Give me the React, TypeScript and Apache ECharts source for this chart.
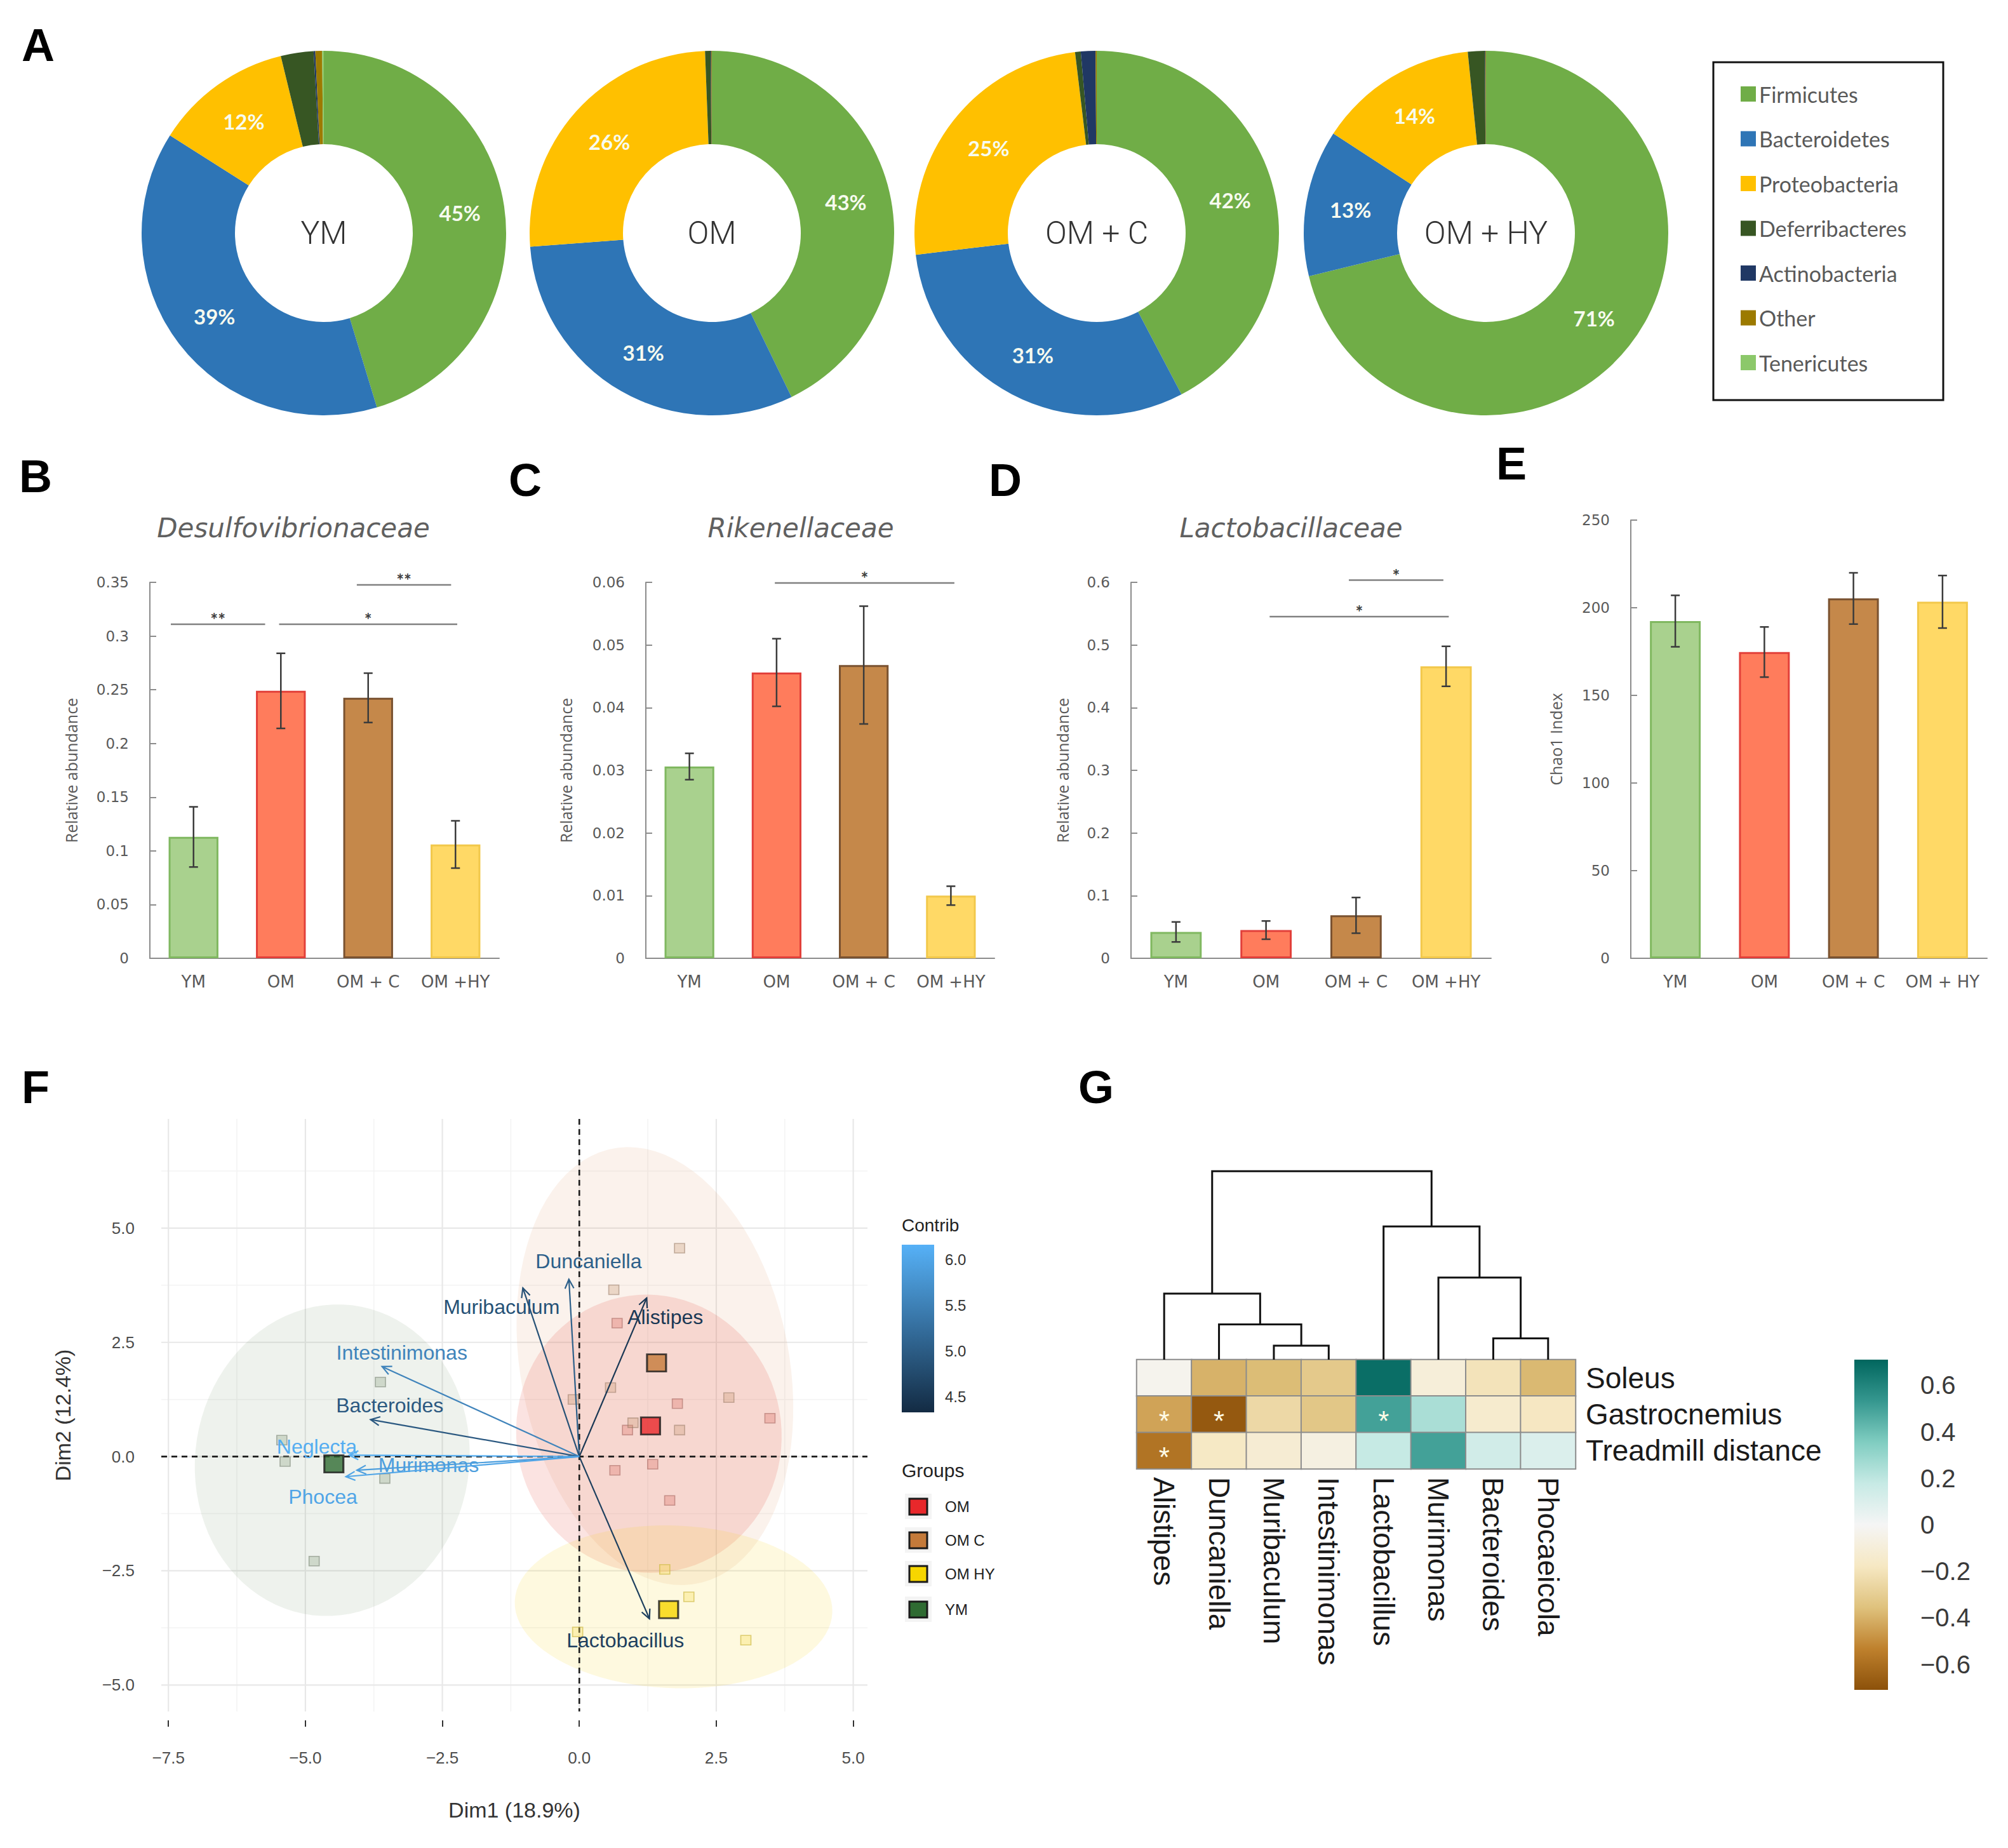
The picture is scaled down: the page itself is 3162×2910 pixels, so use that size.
import React, { useEffect, useRef } from 'react';
import * as echarts from 'echarts';

// ---------------- Panel A: phylum composition ----------------
const phyla = ['Firmicutes', 'Bacteroidetes', 'Proteobacteria', 'Deferribacteres', 'Actinobacteria', 'Other', 'Tenericutes'];
const phylumColors = ['#70ad47', '#2e75b6', '#ffc000', '#375623', '#203864', '#9c7a00', '#8cc86a'];
const pieGroups = ['YM', 'OM', 'OM + C', 'OM + HY'];
const pieYM = [45.3, 38.7, 12.2, 2.9, 0.15, 0.6, 0.15];
const pieOM = [42.8, 31.0, 25.6, 0.5, 0.05, 0.05, 0];
const pieOMC = [42.3, 30.8, 25.0, 0.5, 1.3, 0.1, 0];
const pieOMHY = [71.2, 13.0, 14.2, 1.5, 0.05, 0.05, 0];

// ---------------- Panels B-E: bar charts ----------------
const barGroups = ['YM', 'OM', 'OM + C', 'OM +HY'];
const barGroupsE = ['YM', 'OM', 'OM + C', 'OM + HY'];
const desulfoMean = [0.113, 0.249, 0.2425, 0.106];
const desulfoErr = [0.028, 0.035, 0.023, 0.022];
const rikenMean = [0.0306, 0.0456, 0.0468, 0.0100];
const rikenErr = [0.0021, 0.0054, 0.0094, 0.0015];
const lactoMean = [0.042, 0.045, 0.0686, 0.466];
const lactoErr = [0.016, 0.0145, 0.0285, 0.032];
const chaoMean = [192.4, 174.7, 205.3, 203.4];
const chaoErr = [14.7, 14.3, 14.6, 15.0];
// significance brackets: [from (category position), to, height, stars]
const desulfoSig: any[] = [[-0.26, 0.82, 0.311, '**'], [0.98, 3.02, 0.311, '*'], [1.87, 2.95, 0.3476, '**']];
const rikenSig: any[] = [[0.98, 3.04, 0.0599, '*']];
const lactoSig: any[] = [[1.92, 2.97, 0.6035, '*'], [1.04, 3.03, 0.5453, '*']];
const chaoSig: any[] = [];

// ---------------- Panel F: PCA biplot ----------------
const pcaGroups = ['OM', 'OM C', 'OM HY', 'YM'];
const omPoints = [[0.69, 2.92], [1.79, 1.16], [3.48, 0.84], [0.88, 0.58], [0.65, -0.30], [1.34, -0.17], [1.65, -0.96]];
const omcPoints = [[1.83, 4.56], [0.63, 3.65], [0.57, 1.51], [-0.11, 1.25], [2.73, 1.29], [0.98, 0.74], [1.83, 0.58]];
const omhyPoints = [[1.56, -2.47], [2.0, -3.07], [3.04, -4.02], [-0.03, -3.84]];
const ymPoints = [[-5.43, 0.36], [-5.37, -0.11], [-3.63, 1.63], [-3.55, -0.48], [-4.84, -2.29]];
const centroidPoints = [[1.30, 0.67], [1.41, 2.05], [1.63, -3.35], [-4.48, -0.16]];
// confidence ellipses: [cx, cy, semiX, semiY, rotationDeg]
const ellipseYM = [-4.51, -0.08, 2.5, 3.42, -9];
const ellipseOMC = [1.38, 1.98, 2.45, 4.85, 11];
const ellipseOM = [1.27, 0.5, 2.42, 3.05, 10];
const ellipseOMHY = [1.72, -3.29, 2.9, 1.78, -2];
const loadingNames = ['Duncaniella', 'Muribaculum', 'Alistipes', 'Intestinimonas', 'Bacteroides', 'Neglecta', 'Murimonas', 'Phocea', 'Lactobacillus'];
const loadingX = [-0.19, -1.03, 1.23, -3.60, -3.81, -4.2, -4.06, -4.26, 1.28];
const loadingY = [3.88, 3.69, 3.47, 1.97, 0.81, 0.03, -0.30, -0.44, -3.55];
const loadingContrib = [5.05, 4.85, 4.5, 5.55, 4.95, 6.1, 5.9, 6.0, 4.6];
const loadingLabelX = [0.17, -1.42, 1.57, -3.24, -3.46, -4.79, -2.75, -4.68, 0.84];
const loadingLabelY = [4.27, 3.27, 3.05, 2.27, 1.12, 0.22, -0.18, -0.88, -4.02];
const fMajorX = [-7.5, -5, -2.5, 0, 2.5, 5];
const fMinorX = [-6.25, -3.75, -1.25, 1.25, 3.75];
const fMajorY = [-5, -2.5, 0, 2.5, 5];
const fMinorY = [-3.75, -1.25, 1.25, 3.75, 6.25];
const contribTicks = [4.5, 5.0, 5.5, 6.0];

// ---------------- Panel G: correlation heatmap ----------------
const genera = ['Alistipes', 'Duncaniella', 'Muribaculum', 'Intestinimonas', 'Lactobacillus', 'Murimonas', 'Bacteroides', 'Phocaeicola'];
const traits = ['Soleus', 'Gastrocnemius', 'Treadmill distance'];
const corrSoleus = [-0.03, -0.40, -0.37, -0.32, 0.68, -0.10, -0.20, -0.38];
const corrGastro = [-0.44, -0.68, -0.25, -0.33, 0.50, 0.25, -0.14, -0.18];
const corrTreadmill = [-0.58, -0.17, -0.12, -0.07, 0.18, 0.50, 0.14, 0.10];
const sigSoleus = [0, 0, 0, 0, 0, 0, 0, 0];
const sigGastro = [1, 1, 0, 0, 1, 0, 0, 0];
const sigTreadmill = [1, 0, 0, 0, 0, 0, 0, 0];
// dendrogram merges: [nodeA, nodeB, height]; leaves 0..7, new nodes from 8
const dendroMerges = [[2, 3, 0.221], [1, 8, 0.556], [0, 9, 1.039], [6, 7, 0.335], [5, 11, 1.293], [4, 12, 2.097], [10, 13, 2.968]];
const corrTicks = [-0.6, -0.4, -0.2, 0, 0.2, 0.4, 0.6];

// ---------------- styles ----------------
const groupFill = ['#a9d18e', '#ff7c5c', '#c5884a', '#ffd966'];
const groupBorder = ['#80b860', '#e2403a', '#7a5230', '#f2c84b'];
const brbg = ['#8c510a', '#bf812d', '#dfc27d', '#f6e8c3', '#f5f5f5', '#c7eae5', '#80cdc1', '#35978f', '#01665e'];
const contribColors = ['#132B43', '#56B1F7'];
const ptFill = ['rgba(220,110,100,0.40)', 'rgba(200,150,110,0.38)', 'rgba(250,220,80,0.40)', 'rgba(150,170,140,0.45)'];
const ptBorder = ['rgba(160,95,90,0.65)', 'rgba(150,120,100,0.65)', 'rgba(205,185,70,0.85)', 'rgba(125,135,120,0.75)'];
const centroidColors = ['#e8282b', '#c47a3a', '#f7d600', '#2f6b32'];
const ellipseFill = ['rgba(70,110,60,0.09)', 'rgba(220,140,80,0.11)', 'rgba(230,60,40,0.14)', 'rgba(250,215,30,0.14)'];

const minus = (s: string) => s.replace('-', '\u2212');
const fmt1 = (v: number) => minus(Number(v).toFixed(1));

function buildOption() {
  const series: any[] = [];
  const grids: any[] = [];
  const xAxes: any[] = [];
  const yAxes: any[] = [];

  // ---- pies
  const pieCenters = [[510, 367], [1121, 367], [1727, 367], [2340, 367]];
  [pieYM, pieOM, pieOMC, pieOMHY].forEach((vals, i) => {
    series.push({
      type: 'pie', center: pieCenters[i], radius: [140, 287], startAngle: 90, clockwise: true,
      silent: true, avoidLabelOverlap: false,
      label: {
        show: true, position: 'inside',
        formatter: (p: any) => (p.value >= 5 ? Math.round(p.value) + '%' : ''),
        color: '#f7fbef', fontFamily: 'Lato', fontWeight: 'bold', fontSize: 33,
      },
      labelLine: { show: false },
      data: phyla.map((n, k) => ({ name: n, value: vals[k], itemStyle: { color: phylumColors[k] } })),
    });
  });

  // ---- bar panels
  const panels = [
    { left: 236, top: 917, width: 550, height: 592, cats: barGroups, mean: desulfoMean, err: desulfoErr, sig: desulfoSig, max: 0.35, interval: 0.05, name: 'Relative abundance', gap: 112 },
    { left: 1017, top: 917, width: 549, height: 592, cats: barGroups, mean: rikenMean, err: rikenErr, sig: rikenSig, max: 0.06, interval: 0.01, name: 'Relative abundance', gap: 114 },
    { left: 1781, top: 917, width: 567, height: 592, cats: barGroups, mean: lactoMean, err: lactoErr, sig: lactoSig, max: 0.6, interval: 0.1, name: 'Relative abundance', gap: 96 },
    { left: 2568, top: 819, width: 561, height: 690, cats: barGroupsE, mean: chaoMean, err: chaoErr, sig: chaoSig, max: 250, interval: 50, name: 'Chao1 Index', gap: 106 },
  ];
  panels.forEach((p) => {
    grids.push({ left: p.left, top: p.top, width: p.width, height: p.height });
  });
  panels.forEach((p, k) => {
    xAxes.push({
      gridIndex: k, type: 'category', data: p.cats,
      axisLine: { show: true, onZero: false, lineStyle: { color: '#8c8c8c', width: 2 } },
      axisTick: { show: false },
      axisLabel: { color: '#595959', fontFamily: 'DejaVu Sans', fontSize: 26, margin: 24, interval: 0 },
    });
    yAxes.push({
      gridIndex: k, type: 'value', min: 0, max: p.max, interval: p.interval,
      axisLine: { show: true, onZero: false, lineStyle: { color: '#8c8c8c', width: 2 } },
      axisTick: { show: true, inside: true, length: 10, lineStyle: { color: '#8c8c8c', width: 2 } },
      splitLine: { show: false },
      axisLabel: { color: '#595959', fontFamily: 'DejaVu Sans', fontSize: 23, margin: 33 },
      name: p.name, nameLocation: 'middle', nameGap: p.gap,
      nameTextStyle: { color: '#595959', fontFamily: 'Open Sans', fontSize: 25 },
    });
  });
  panels.forEach((p, k) => {
    xAxes.push({ gridIndex: k, type: 'value', min: -0.5, max: 3.5, show: false, axisLine: { onZero: false } });
  });
  panels.forEach((p, k) => {
    series.push({
      type: 'bar', xAxisIndex: k, yAxisIndex: k, barWidth: '57%', silent: true,
      data: p.mean.map((v, i) => ({ value: v, itemStyle: { color: groupFill[i], borderColor: groupBorder[i], borderWidth: 3 } })),
    });
    // error bars: drawn on the hidden value x-axis (same positions as the categories)
    series.push({
      type: 'custom', xAxisIndex: 4 + k, yAxisIndex: k, silent: true, z: 5, clip: false,
      encode: { x: 0, y: 1 },
      data: p.mean.map((m, i) => [i, m, p.err[i]]),
      renderItem: (params: any, api: any) => {
        const i = params.dataIndex;
        const m = p.mean[i], e = p.err[i];
        const lo = api.coord([i, m - e]);
        const hi = api.coord([i, m + e]);
        const cap = 7;
        return {
          type: 'polyline',
          shape: { points: [[lo[0] - cap, lo[1]], [lo[0] + cap, lo[1]], [lo[0], lo[1]], [hi[0], hi[1]], [hi[0] - cap, hi[1]], [hi[0] + cap, hi[1]]] },
          style: { stroke: '#3b3b3b', lineWidth: 2.5, fill: 'none' },
        };
      },
    });
    if (p.sig.length) {
      series.push({
        type: 'custom', xAxisIndex: 4 + k, yAxisIndex: k, silent: true, z: 5, clip: false,
        encode: { x: 0, y: 2 },
        data: p.sig.map((s: any) => [s[0], s[1], s[2]]),
        renderItem: (params: any, api: any) => {
          const s = p.sig[params.dataIndex];
          const a = api.coord([s[0], s[2]]);
          const b = api.coord([s[1], s[2]]);
          return {
            type: 'group', children: [
              { type: 'line', shape: { x1: a[0], y1: a[1], x2: b[0], y2: b[1] }, style: { stroke: '#808080', lineWidth: 2.5 } },
              { type: 'text', x: (a[0] + b[0]) / 2, y: a[1] - 8, style: { text: s[3], fill: '#404040', font: 'bold 28px Lato', textAlign: 'center', textVerticalAlign: 'middle' } },
            ],
          };
        },
      });
    }
  });

  // ---- Panel F (grid 4)
  grids.push({ left: 254, top: 1762, width: 1112, height: 933 });
  xAxes.push({
    gridIndex: 4, type: 'value', min: -7.63, max: 5.26, offset: 14,
    axisLine: { show: false, onZero: false },
    axisTick: { show: true, length: 10, customValues: fMajorX, lineStyle: { color: '#333', width: 2 } },
    axisLabel: { customValues: fMajorX, formatter: fmt1, color: '#4d4d4d', fontSize: 26, fontFamily: 'Liberation Sans', margin: 46 },
    splitLine: { show: false },
    name: 'Dim1 (18.9%)', nameLocation: 'middle', nameGap: 124,
    nameTextStyle: { fontSize: 34, color: '#333', fontFamily: 'Liberation Sans' },
  });
  yAxes.push({
    gridIndex: 4, type: 'value', min: -5.58, max: 7.39,
    axisLine: { show: false, onZero: false }, axisTick: { show: false },
    axisLabel: { customValues: fMajorY, formatter: fmt1, color: '#4d4d4d', fontSize: 26, fontFamily: 'Liberation Sans', margin: 42 },
    splitLine: { show: false },
    name: 'Dim2 (12.4%)', nameLocation: 'middle', nameGap: 138,
    nameTextStyle: { fontSize: 34, color: '#333', fontFamily: 'Liberation Sans' },
  });
  const fx = 8, fy = 4;
  const gridData: any[] = [];
  fMinorX.forEach((v) => gridData.push([v, 0, 0]));
  fMinorY.forEach((v) => gridData.push([v, 1, 0]));
  fMajorX.forEach((v) => gridData.push([v, 0, 1]));
  fMajorY.forEach((v) => gridData.push([v, 1, 1]));
  series.push({
    type: 'custom', xAxisIndex: fx, yAxisIndex: fy, silent: true, z: 0, data: gridData,
    renderItem: (params: any, api: any) => {
      const cs = params.coordSys;
      const d = gridData[params.dataIndex];
      const st = d[2] ? { stroke: '#e8e8e8', lineWidth: 2.2 } : { stroke: '#f3f3f3', lineWidth: 1.5 };
      if (d[1] === 0) {
        const x = api.coord([d[0], 0])[0];
        return { type: 'line', shape: { x1: x, y1: cs.y, x2: x, y2: cs.y + cs.height }, style: st };
      }
      const y = api.coord([0, d[0]])[1];
      return { type: 'line', shape: { x1: cs.x, y1: y, x2: cs.x + cs.width, y2: y }, style: st };
    },
  });
  const ellipses = [ellipseYM, ellipseOMC, ellipseOM, ellipseOMHY];
  series.push({
    type: 'custom', xAxisIndex: fx, yAxisIndex: fy, silent: true, z: 1, data: ellipses,
    renderItem: (params: any, api: any) => {
      const e = ellipses[params.dataIndex];
      const c = api.coord([e[0], e[1]]);
      const s = api.size([1, 1]);
      const A = e[2] * s[0], B = e[3] * s[1], th = (e[4] * Math.PI) / 180;
      const pts: number[][] = [];
      for (let k = 0; k < 90; k++) {
        const t = (k / 90) * Math.PI * 2;
        const x = A * Math.cos(t), y = -B * Math.sin(t);
        pts.push([c[0] + x * Math.cos(th) + y * Math.sin(th), c[1] - x * Math.sin(th) + y * Math.cos(th)]);
      }
      return { type: 'polygon', shape: { points: pts }, style: { fill: ellipseFill[params.dataIndex] } };
    },
  });
  series.push({
    type: 'custom', xAxisIndex: fx, yAxisIndex: fy, silent: true, z: 3, data: [[0, 0], [0, 1]],
    renderItem: (params: any, api: any) => {
      const cs = params.coordSys;
      const o = api.coord([0, 0]);
      const st = { stroke: '#1a1a1a', lineWidth: 2.6, lineDash: [9, 7] };
      if (params.dataIndex === 0) return { type: 'line', shape: { x1: o[0], y1: cs.y, x2: o[0], y2: cs.y + cs.height }, style: st };
      return { type: 'line', shape: { x1: cs.x, y1: o[1], x2: cs.x + cs.width, y2: o[1] }, style: st };
    },
  });
  [omPoints, omcPoints, omhyPoints, ymPoints].forEach((pts, g) => {
    series.push({
      type: 'scatter', xAxisIndex: fx, yAxisIndex: fy, silent: true, z: 4, symbol: 'rect', symbolSize: [16, 15],
      data: pts, itemStyle: { color: ptFill[g], borderColor: ptBorder[g], borderWidth: 1.6 },
    });
  });
  const arrowSeriesIndex = series.length;
  series.push({
    type: 'custom', xAxisIndex: fx, yAxisIndex: fy, silent: true, z: 6,
    data: loadingNames.map((n, i) => [loadingX[i], loadingY[i], loadingContrib[i], loadingLabelX[i], loadingLabelY[i]]),
    renderItem: (params: any, api: any) => {
      const i = params.dataIndex;
      const o = api.coord([0, 0]);
      const t = api.coord([loadingX[i], loadingY[i]]);
      const l = api.coord([loadingLabelX[i], loadingLabelY[i]]);
      const color = api.visual('color');
      const ang = Math.atan2(t[1] - o[1], t[0] - o[0]);
      const hl = 16, ha = 0.45;
      const p1 = [t[0] - hl * Math.cos(ang - ha), t[1] - hl * Math.sin(ang - ha)];
      const p2 = [t[0] - hl * Math.cos(ang + ha), t[1] - hl * Math.sin(ang + ha)];
      return {
        type: 'group', children: [
          { type: 'line', shape: { x1: o[0], y1: o[1], x2: t[0], y2: t[1] }, style: { stroke: color, lineWidth: 2.2 } },
          { type: 'polyline', shape: { points: [p1, t, p2] }, style: { stroke: color, lineWidth: 2.2, fill: 'none' } },
          { type: 'text', x: l[0], y: l[1], style: { text: loadingNames[i], fill: color, font: '32px "Liberation Sans"', textAlign: 'center', textVerticalAlign: 'middle' } },
        ],
      };
    },
  });
  pcaGroups.forEach((g, i) => {
    series.push({
      type: 'scatter', name: g, xAxisIndex: fx, yAxisIndex: fy, silent: true, z: 8, symbol: 'rect', symbolSize: [30, 27],
      data: [centroidPoints[i]], itemStyle: { color: centroidColors[i], borderColor: '#1a1a1a', borderWidth: 3 },
    });
  });

  // ---- Panel G heatmap (grid 5) and dendrogram (grid 6)
  grids.push({ left: 1790, top: 2141, width: 691, height: 172 });
  xAxes.push({
    gridIndex: 5, type: 'category', data: genera, position: 'bottom',
    axisLine: { show: false }, axisTick: { show: false }, splitArea: { show: false },
    axisLabel: { rotate: -90, color: '#1a1a1a', fontSize: 46, fontFamily: 'Liberation Sans', margin: 13, interval: 0 },
  });
  yAxes.push({
    gridIndex: 5, type: 'category', data: traits, position: 'right', inverse: true,
    axisLine: { show: false }, axisTick: { show: false },
    axisLabel: { color: '#1a1a1a', fontSize: 46, fontFamily: 'Liberation Sans', margin: 16, interval: 0 },
  });
  const heatData: any[] = [];
  [corrSoleus, corrGastro, corrTreadmill].forEach((row, r) => {
    const sig = [sigSoleus, sigGastro, sigTreadmill][r];
    row.forEach((v, c) => heatData.push([c, r, v, sig[c]]));
  });
  const heatSeriesIndex = series.length;
  series.push({
    type: 'heatmap', xAxisIndex: 9, yAxisIndex: 5, silent: true, data: heatData,
    itemStyle: { borderColor: '#8c8c8c', borderWidth: 2 },
    label: {
      show: true, formatter: (p: any) => (p.data[3] ? '*' : ''), color: '#fffbe6',
      fontSize: 44, fontFamily: 'Liberation Sans', offset: [0, 10],
    },
  });
  grids.push({ left: 1790, top: 1841, width: 691, height: 300 });
  xAxes.push({ gridIndex: 6, type: 'value', min: -0.5, max: 7.5, show: false, axisLine: { onZero: false } });
  yAxes.push({ gridIndex: 6, type: 'value', min: 0, max: 3, show: false, axisLine: { onZero: false } });
  const nodeX: number[] = [0, 1, 2, 3, 4, 5, 6, 7];
  const nodeH: number[] = [0, 0, 0, 0, 0, 0, 0, 0];
  const dendroData: any[] = [];
  dendroMerges.forEach((m) => {
    const [a, b, h] = m;
    dendroData.push([nodeX[a], nodeH[a], nodeX[b], nodeH[b], h]);
    nodeX.push((nodeX[a] + nodeX[b]) / 2);
    nodeH.push(h);
  });
  series.push({
    type: 'custom', xAxisIndex: 10, yAxisIndex: 6, silent: true, clip: false, data: dendroData,
    renderItem: (params: any, api: any) => {
      const d = dendroData[params.dataIndex];
      const p1 = api.coord([d[0], d[1]]);
      const p2 = api.coord([d[0], d[4]]);
      const p3 = api.coord([d[2], d[4]]);
      const p4 = api.coord([d[2], d[3]]);
      return { type: 'polyline', shape: { points: [p1, p2, p3, p4] }, style: { stroke: '#111', lineWidth: 3, fill: 'none' } };
    },
  });

  // ---- colorbars (grid 7: Contrib, grid 8: correlation)
  grids.push({ left: 1420, top: 1960, width: 51, height: 264 });
  xAxes.push({ gridIndex: 7, type: 'value', min: 0, max: 1, show: false, axisLine: { onZero: false } });
  yAxes.push({
    gridIndex: 7, type: 'value', min: 4.33, max: 6.16, position: 'right',
    axisLine: { show: false, onZero: false }, splitLine: { show: false },
    axisTick: { show: true, inside: true, length: 9, customValues: contribTicks, lineStyle: { color: '#ffffff', width: 2 } },
    axisLabel: { customValues: contribTicks, formatter: fmt1, color: '#333', fontSize: 24, fontFamily: 'Liberation Sans', margin: 17 },
  });
  grids.push({ left: 2920, top: 2141, width: 53, height: 520 });
  xAxes.push({ gridIndex: 8, type: 'value', min: 0, max: 1, show: false, axisLine: { onZero: false } });
  yAxes.push({
    gridIndex: 8, type: 'value', min: -0.71, max: 0.71, position: 'right',
    axisLine: { show: false, onZero: false }, splitLine: { show: false }, axisTick: { show: false },
    axisLabel: {
      customValues: corrTicks, color: '#3a3a3a', fontSize: 40, fontFamily: 'Liberation Sans', margin: 51,
      formatter: (v: number) => (Math.abs(v) < 1e-9 ? '0' : minus(Number(v).toFixed(1))),
    },
  });
  const gradRect = (colorsTopToBottom: string[]) => (params: any) => {
    const cs = params.coordSys;
    const n = colorsTopToBottom.length;
    return {
      type: 'rect', shape: { x: cs.x, y: cs.y, width: cs.width, height: cs.height },
      style: { fill: new echarts.graphic.LinearGradient(0, 0, 0, 1, colorsTopToBottom.map((c, i) => ({ offset: i / (n - 1), color: c }))) },
    };
  };
  series.push({ type: 'custom', xAxisIndex: 11, yAxisIndex: 7, silent: true, z: 1, data: [[0.5, 5]], renderItem: gradRect(contribColors.slice().reverse()) });
  series.push({ type: 'custom', xAxisIndex: 12, yAxisIndex: 8, silent: true, z: 1, data: [[0.5, 0]], renderItem: gradRect(brbg.slice().reverse()) });

  // ---- graphic texts
  const letter = (t: string, x: number, y: number) => ({
    type: 'text', x, y, style: { text: t, font: 'bold 72px "Liberation Sans"', fill: '#000', textAlign: 'center', textVerticalAlign: 'middle' },
  });
  const graphic: any[] = [
    letter('A', 60, 71), letter('B', 56, 750), letter('C', 827, 756), letter('D', 1583, 756),
    letter('E', 2380, 730), letter('F', 56, 1712), letter('G', 1726, 1712),
    { type: 'rect', shape: { x: 2698, y: 98, width: 362, height: 532 }, style: { fill: 'none', stroke: '#111', lineWidth: 3 } },
  ];
  pieGroups.forEach((g, i) => {
    graphic.push({ type: 'text', x: pieCenters[i][0], y: pieCenters[i][1], style: { text: g, font: '300 50px Roboto', fill: '#333', textAlign: 'center', textVerticalAlign: 'middle' } });
  });
  const titles = [['Desulfovibrionaceae', 462], ['Rikenellaceae', 1261], ['Lactobacillaceae', 2033]];
  titles.forEach((t: any) => {
    graphic.push({ type: 'text', x: t[1], y: 831, style: { text: t[0], font: 'oblique 42px "DejaVu Sans"', fill: '#606060', textAlign: 'center', textVerticalAlign: 'middle' } });
  });
  graphic.push({ type: 'text', x: 1420, y: 1929, style: { text: 'Contrib', font: '28px "Liberation Sans"', fill: '#222', textAlign: 'left', textVerticalAlign: 'middle' } });
  graphic.push({ type: 'text', x: 1420, y: 2315, style: { text: 'Groups', font: '30px "Liberation Sans"', fill: '#222', textAlign: 'left', textVerticalAlign: 'middle' } });
  const legY = [2372, 2425, 2478, 2534];
  pcaGroups.forEach((g, i) => {
    graphic.push({ type: 'rect', shape: { x: 1425, y: legY[i] - 20, width: 42, height: 40 }, style: { fill: '#f4f4f4' } });
    graphic.push({ type: 'rect', shape: { x: 1432, y: legY[i] - 12, width: 28, height: 25 }, style: { fill: centroidColors[i], stroke: '#1a1a1a', lineWidth: 3 } });
    graphic.push({ type: 'text', x: 1488, y: legY[i], style: { text: g, font: '24px "Liberation Sans"', fill: '#222', textAlign: 'left', textVerticalAlign: 'middle' } });
  });

  return {
    animation: false,
    backgroundColor: '#ffffff',
    textStyle: { fontFamily: 'Lato' },
    legend: [{
      data: phyla, orient: 'vertical', left: 2741, top: 131, itemWidth: 24, itemHeight: 24, itemGap: 36.5,
      icon: 'rect', selectedMode: false, padding: 0,
      textStyle: { fontFamily: 'Lato', fontSize: 34, color: '#595959', lineHeight: 34 },
    }],
    visualMap: [
      { type: 'continuous', show: false, seriesIndex: arrowSeriesIndex, dimension: 2, min: 4.33, max: 6.16, inRange: { color: contribColors } },
      { type: 'continuous', show: false, seriesIndex: heatSeriesIndex, dimension: 2, min: -0.71, max: 0.71, inRange: { color: brbg } },
    ],
    grid: grids,
    xAxis: xAxes,
    yAxis: yAxes,
    series,
    graphic,
  };
}

export default function App() {
  const ref = useRef<HTMLDivElement>(null);
  useEffect(() => {
    document.body.style.margin = '0';
    const chart = echarts.init(ref.current as HTMLDivElement, null, { renderer: 'svg' });
    chart.setOption(buildOption() as any);
    return () => chart.dispose();
  }, []);
  return <div ref={ref} style={{ width: 3162, height: 2910, background: '#fff' }} />;
}
